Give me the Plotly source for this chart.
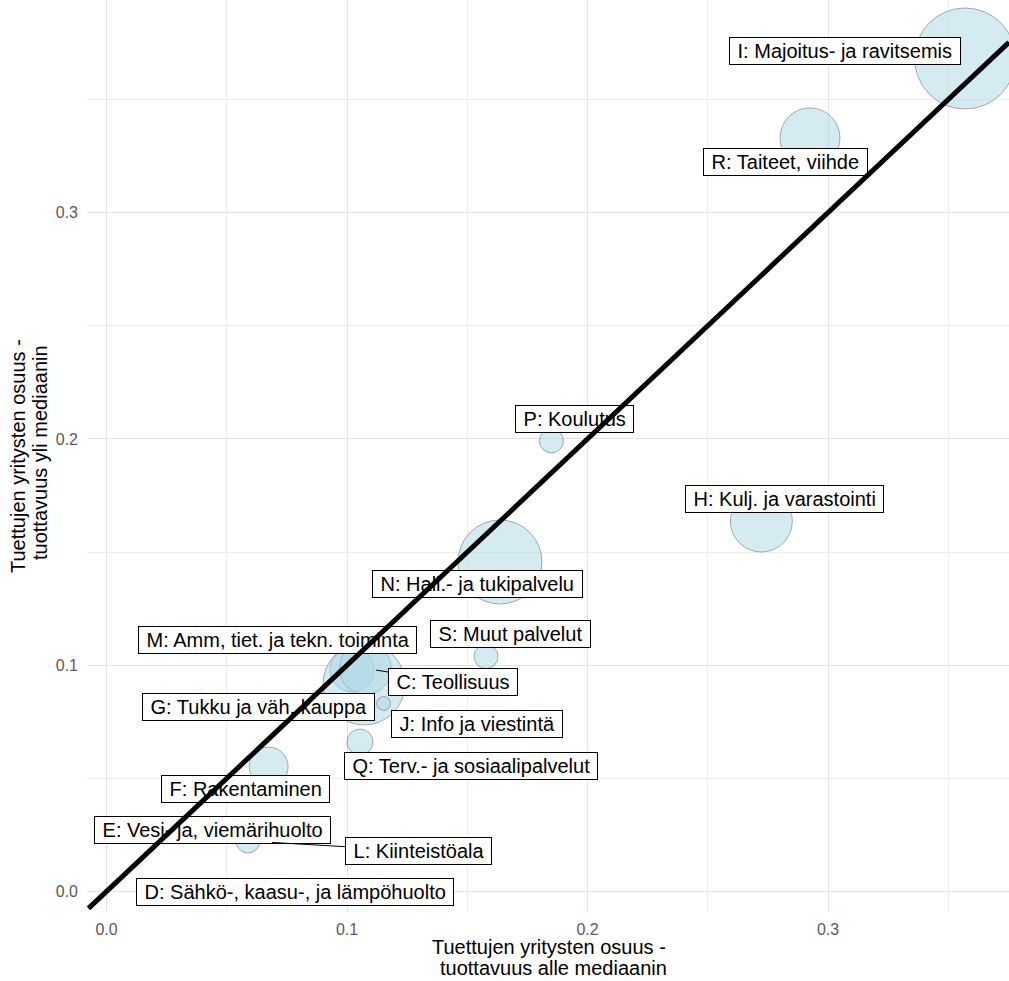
import plotly.graph_objects as go

# ---------------- data ----------------
toimiala = [
    "I: Majoitus- ja ravitsemis",
    "R: Taiteet, viihde",
    "P: Koulutus",
    "H: Kulj. ja varastointi",
    "N: Hall.- ja tukipalvelu",
    "S: Muut palvelut",
    "M: Amm, tiet. ja tekn. toiminta",
    "C: Teollisuus",
    "G: Tukku ja väh. kauppa",
    "J: Info ja viestintä",
    "Q: Terv.- ja sosiaalipalvelut",
    "F: Rakentaminen",
    "E: Vesi- ja, viemärihuolto",
    "L: Kiinteistöala",
    "D: Sähkö-, kaasu-, ja lämpöhuolto",
]
# share of supported firms, productivity below median (x)
osuus_alle = [0.357, 0.2925, 0.185, 0.2723, 0.1636, 0.1578, 0.1021, 0.1076,
              0.1071, 0.1152, 0.1054, 0.0674, 0.039, 0.0588, 0.068]
# share of supported firms, productivity above median (y)
osuus_yli = [0.3681, 0.333, 0.1991, 0.1637, 0.1456, 0.1038, 0.0979, 0.0986,
             0.0917, 0.0831, 0.0661, 0.0552, 0.025, 0.0223, 0.0015]
# bubble size variable
koko = [638, 225, 36, 240, 441, 36, 121, 169, 420, 12, 42, 95, 9, 36, 6]

# ---------------- layout helpers (label placement, not data) ----------------
label_x = [0.3069, 0.2825, 0.1946, 0.2819, 0.1543, 0.1678, 0.0713, 0.1441,
           0.0632, 0.1541, 0.1516, 0.0578, 0.0439, 0.1299, 0.0784]
label_y = [0.3714, 0.3224, 0.2090, 0.1734, 0.1357, 0.1138, 0.1111, 0.0924,
           0.0815, 0.0740, 0.0555, 0.0453, 0.0272, 0.0179, 0.0000]
leader_standoff = {"C: Teollisuus": 11, "L: Kiinteistöala": 24}

X_RANGE = [-0.00811, 0.37526]
Y_RANGE = [-0.00906, 0.39395]
MAX_R = 50.5
FONT = "Liberation Sans, Arial, sans-serif"

fig = go.Figure()
fig.add_trace(go.Scatter(
    x=osuus_alle, y=osuus_yli, mode="markers", text=toimiala,
    hoverinfo="text",
    marker=dict(size=koko, sizemode="area",
                sizeref=max(koko) / (2 * MAX_R ** 2),
                color="rgba(173,216,230,0.72)",
                line=dict(color="rgba(85,100,110,0.85)", width=0.9)),
    showlegend=False,
))

annotations = []
NB = "\u00a0"
for name, px, py, lx, ly in zip(toimiala, osuus_alle, osuus_yli, label_x, label_y):
    common = dict(text=NB + name + NB, font=dict(family=FONT, size=20, color="black"),
                  bgcolor="white", bordercolor="black", borderwidth=1, borderpad=2)
    if name in leader_standoff:
        annotations.append(dict(x=px, y=py, xref="x", yref="y",
                                ax=lx, ay=ly, axref="x", ayref="y",
                                showarrow=True, arrowhead=0, arrowwidth=1,
                                arrowcolor="black", standoff=leader_standoff[name],
                                **common))
    else:
        annotations.append(dict(x=lx, y=ly, xref="x", yref="y", showarrow=False,
                                xanchor="center", yanchor="middle", **common))

# y = x reference line (drawn above labels)
annotations.append(dict(x=X_RANGE[1], y=X_RANGE[1], xref="x", yref="y",
                        ax=X_RANGE[0], ay=X_RANGE[0], axref="x", ayref="y",
                        text=" ", font=dict(size=1), showarrow=True, arrowhead=0,
                        arrowwidth=5, arrowcolor="black", standoff=0, startstandoff=0))

# axis titles
tfont = dict(family=FONT, size=20, color="black")
annotations += [
    dict(text="Tuettujen yritysten osuus -", xref="paper", yref="paper", x=0.5, y=0,
         xanchor="center", yanchor="middle", yshift=-35, xshift=1, showarrow=False, font=tfont),
    dict(text="tuottavuus alle mediaanin", xref="paper", yref="paper", x=0.5, y=0,
         xanchor="center", yanchor="middle", yshift=-56, xshift=5, showarrow=False, font=tfont),
    dict(text="Tuettujen yritysten osuus -", xref="paper", yref="paper", x=0, y=0.5,
         xanchor="center", yanchor="middle", xshift=-69, textangle=-90, showarrow=False, font=tfont),
    dict(text="tuottavuus yli mediaanin", xref="paper", yref="paper", x=0, y=0.5,
         xanchor="center", yanchor="middle", xshift=-47, yshift=3, textangle=-90, showarrow=False, font=tfont),
]

axis_common = dict(
    dtick=0.1, tick0=0, tickformat=".1f", showgrid=True, gridcolor="#e3e3e3", gridwidth=1.1,
    minor=dict(dtick=0.05, showgrid=True, gridcolor="#ededed", gridwidth=0.7),
    zeroline=False, showline=False, ticks="",
    tickfont=dict(family=FONT, size=16, color="#5a5a5a"),
)

fig.update_layout(
    width=1009, height=981, autosize=False,
    margin=dict(l=87, r=0, t=0, b=69, pad=0),
    paper_bgcolor="white", plot_bgcolor="white",
    xaxis=dict(range=X_RANGE, ticklabelstandoff=6, **axis_common),
    yaxis=dict(range=Y_RANGE, ticklabelstandoff=8, **axis_common),
    annotations=annotations,
    hovermode="closest",
    showlegend=False,
)

fig.write_html("out.html", config={"displayModeBar": False},
               post_script="document.body.style.margin='0';document.body.style.padding='0';")
